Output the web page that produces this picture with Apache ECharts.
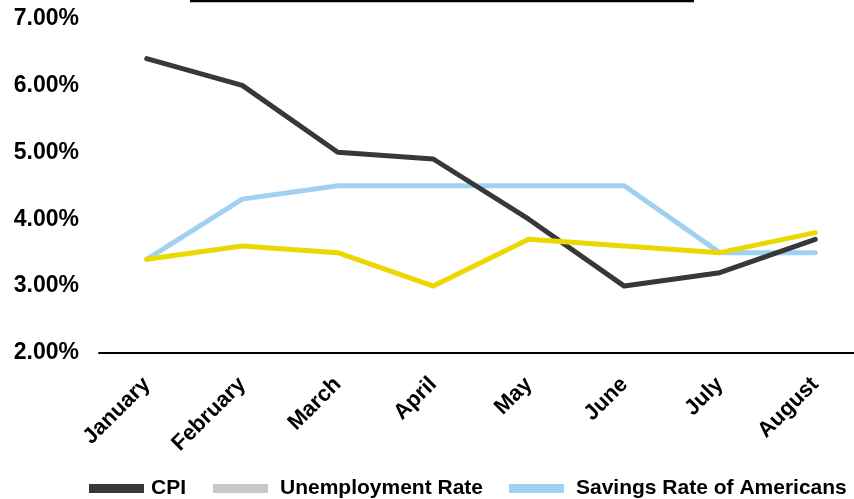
<!DOCTYPE html>
<html>
<head>
<meta charset="utf-8">
<script src="https://cdn.jsdelivr.net/npm/echarts@6/dist/echarts.min.js"></script>
<style>
  html, body { margin: 0; padding: 0; background: #ffffff; }
  #chart { width: 854px; height: 499px; }
</style>
</head>
<body>
<div id="chart"></div>
<script>
// Monthly rates, in percent
const months = ['January', 'February', 'March', 'April', 'May', 'June', 'July', 'August'];
const cpi = [6.4, 6.0, 5.0, 4.9, 4.0, 3.0, 3.2, 3.7];
const unemployment = [3.4, 3.6, 3.5, 3.0, 3.7, 3.6, 3.5, 3.8];
const savings = [3.4, 4.3, 4.5, 4.5, 4.5, 4.5, 3.5, 3.5];
const yMin = 2, yMax = 7, yStep = 1;

const seriesNames = ['CPI', 'Unemployment Rate', 'Savings Rate of Americans'];
const lineColors = ['#383838', '#ecd800', '#9fd2f2'];
const keyColors = ['#383838', '#c8c8c8', '#9fd2f2'];

const FONT = '"Liberation Sans", Arial, sans-serif';
const chart = echarts.init(document.getElementById('chart'), null, { renderer: 'canvas' });

const lineSeries = (i, data, z) => ({
  name: seriesNames[i], type: 'line', data, z,
  symbol: 'none',
  lineStyle: { color: lineColors[i], width: 5, cap: 'round', join: 'round' },
  itemStyle: { color: keyColors[i] },
  emphasis: { disabled: true },
  animation: false
});

// one key per legend block so each can sit at its own x
const keyLeft = [89, 213, 509];
const legends = seriesNames.map((name, i) => ({
  left: keyLeft[i], top: 478, padding: 0,
  itemWidth: 55, itemHeight: 9,
  icon: 'rect',
  selectedMode: false,
  textStyle: { color: '#000', fontFamily: FONT, fontWeight: 'bold', fontSize: 21, padding: [0, 0, 0, i === 0 ? 2 : 7] },
  data: [{ name, itemStyle: { color: keyColors[i] } }]
}));

chart.setOption({
  animation: false,
  grid: { left: 99, top: 18.5, right: -9, bottom: 146, containLabel: false, outerBoundsMode: 'none' },
  xAxis: {
    type: 'category',
    data: months,
    boundaryGap: true,
    axisLine: { show: true, lineStyle: { color: '#000', width: 2 } },
    axisTick: { show: false },
    axisLabel: {
      rotate: 45, margin: 28, interval: 0,
      color: '#000', fontFamily: FONT, fontWeight: 'bold', fontSize: 22
    },
    splitLine: { show: false }
  },
  yAxis: {
    type: 'value',
    min: yMin, max: yMax, interval: yStep,
    axisLine: { show: false },
    axisTick: { show: false },
    splitLine: { show: false },
    axisLabel: {
      margin: 20, color: '#000', fontFamily: FONT, fontWeight: 'bold', fontSize: 23,
      formatter: v => v.toFixed(2) + '%'
    }
  },
  legend: legends,
  graphic: [
    { type: 'line', shape: { x1: 190, y1: 1, x2: 694, y2: 1 }, style: { stroke: '#000', lineWidth: 2.5 } }
  ],
  series: [
    lineSeries(0, cpi, 3),
    lineSeries(1, unemployment, 4),
    lineSeries(2, savings, 2)
  ]
});
</script>
</body>
</html>
